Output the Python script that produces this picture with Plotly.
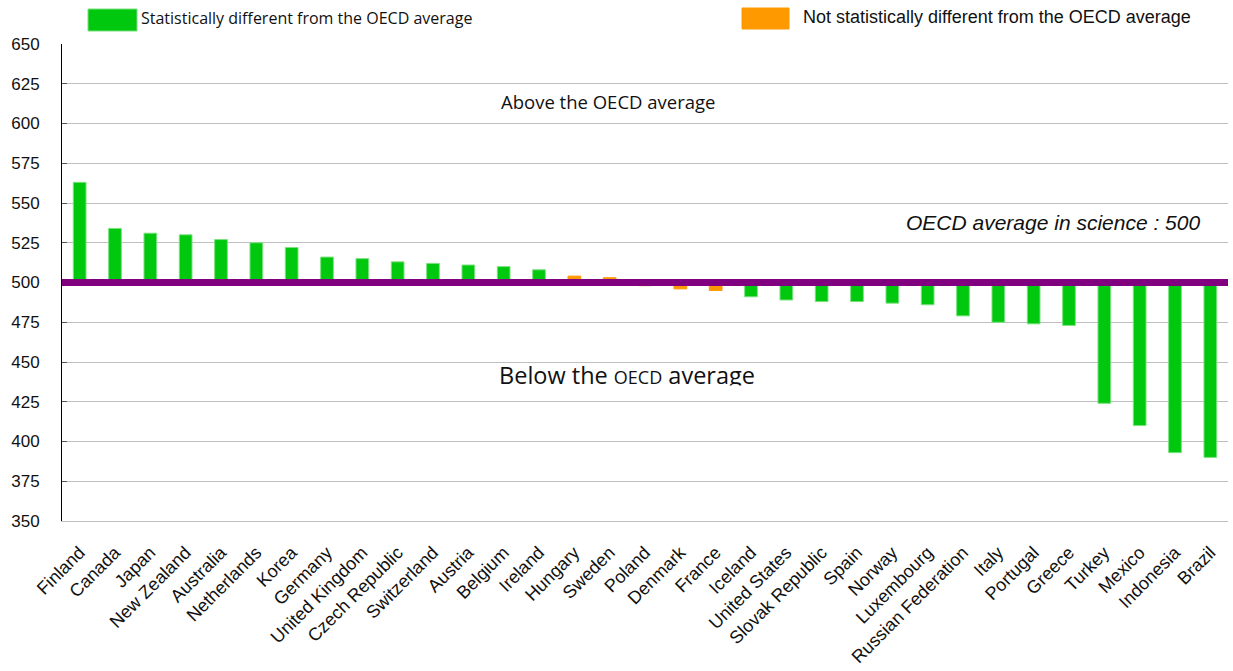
import plotly.graph_objects as go

countries = ["Finland", "Canada", "Japan", "New Zealand", "Australia", "Netherlands", "Korea",
             "Germany", "United Kingdom", "Czech Republic", "Switzerland", "Austria", "Belgium",
             "Ireland", "Hungary", "Sweden", "Poland", "Denmark", "France", "Iceland",
             "United States", "Slovak Republic", "Spain", "Norway", "Luxembourg",
             "Russian Federation", "Italy", "Portugal", "Greece", "Turkey", "Mexico",
             "Indonesia", "Brazil"]
scores = [563, 534, 531, 530, 527, 525, 522, 516, 515, 513, 512, 511, 510, 508, 504, 503,
          498, 496, 495, 491, 489, 488, 488, 487, 486, 479, 475, 474, 473, 424, 410, 393, 390]
significant = [True] * 14 + [False] * 5 + [True] * 14
oecd_avg = 500
y_ticks = list(range(350, 651, 25))

GREEN = "#00C80F"
ORANGE = "#FF9900"
colors = [GREEN if s else ORANGE for s in significant]

L, R, T, B = 62, 5, 44, 150
PW = 1233 - L - R
PH = 671 - T - B


def px(xp):
    return (xp - L) / PW


def py(yp):
    return 1 - (yp - T) / PH


fig = go.Figure()
fig.add_trace(go.Bar(
    x=countries,
    y=[s - oecd_avg for s in scores],
    base=oecd_avg,
    marker=dict(color=colors, line=dict(color=["#7CE07F" if s else ORANGE for s in significant], width=1)),
    width=0.36,
    showlegend=False,
    hoverinfo="skip",
))

# "Below" label as a text trace so a shape can clip its lower edge like the reference
fig.add_trace(go.Scatter(
    x=[px(627)], y=[440], xaxis="x2", yaxis="y",
    mode="text", text=["Below the <span style='font-size:18px'>OECD</span> average"],
    textfont=dict(family="Open Sans", size=23.5, color="#111111"),
    textposition="middle center", showlegend=False, hoverinfo="skip",
))
fig.add_shape(type="rect", xref="paper", yref="paper", x0=px(480), x1=px(780),
              y0=py(398), y1=py(385.5), fillcolor="white", line=dict(width=0), layer="above")

fig.add_shape(type="line", xref="paper", x0=0, x1=1, yref="y", y0=oecd_avg, y1=oecd_avg,
              line=dict(color="#800080", width=7), layer="above")

# legend
fig.add_shape(type="rect", xref="paper", yref="paper", x0=px(88), x1=px(137),
              y0=py(31), y1=py(9), fillcolor=GREEN, line=dict(color="#7CE07F", width=1))
fig.add_annotation(xref="paper", yref="paper", x=px(139), y=py(18), xanchor="left",
                   yanchor="middle", showarrow=False,
                   text="Statistically different from the OECD average",
                   font=dict(family="Open Sans", size=16, color="#111111"))
fig.add_shape(type="rect", xref="paper", yref="paper", x0=px(742), x1=px(789),
              y0=py(29), y1=py(8), fillcolor=ORANGE, line=dict(color=ORANGE, width=1))
fig.add_annotation(xref="paper", yref="paper", x=px(801), y=py(17), xanchor="left",
                   yanchor="middle", showarrow=False,
                   text="Not statistically different from the OECD average",
                   font=dict(family="Liberation Sans", size=18, color="#111111"))

fig.add_annotation(xref="paper", yref="y", x=px(608), y=614, showarrow=False,
                   xanchor="center", yanchor="middle",
                   text="Above the OECD average",
                   font=dict(family="Open Sans", size=18.5, color="#111111"))
fig.add_annotation(xref="paper", yref="y", x=px(1053), y=538, showarrow=False,
                   xanchor="center", yanchor="middle",
                   text="<i>OECD average in science : 500</i>",
                   font=dict(family="Liberation Sans", size=21, color="#111111"))

fig.update_layout(
    width=1233, height=671,
    margin=dict(l=L, r=R, t=T, b=B),
    plot_bgcolor="white", paper_bgcolor="white",
    xaxis=dict(tickangle=-45, tickfont=dict(family="Liberation Sans", size=18, color="#111111"),
               showgrid=False, showline=True, linecolor="#BFBFBF", linewidth=1,
               ticks="", automargin=False,
               ticklabelstandoff=13, range=[-0.5, len(countries) - 0.5]),
    xaxis2=dict(range=[0, 1], overlaying="x", visible=False),
    yaxis=dict(range=[350, 650], tickvals=y_ticks, ticktext=[str(v) for v in y_ticks],
               tickfont=dict(family="Liberation Sans", size=17, color="#111111"),
               showgrid=True, gridcolor="#BFBFBF", gridwidth=1, zeroline=False,
               showline=True, linecolor="#000000", linewidth=1, ticks="inside",
               ticklen=5, tickcolor="#555555", automargin=False, ticklabelstandoff=18),
)

fig.write_html("out.html", config={"displayModeBar": False},
               post_script="document.body.style.margin='0';")
